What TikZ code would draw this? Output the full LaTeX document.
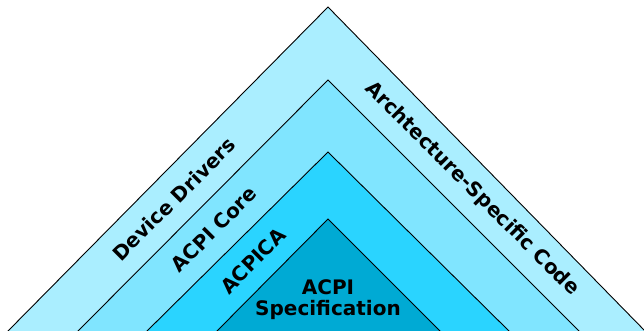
\documentclass[tikz,border=0pt]{standalone}
\usepackage{fontspec}
\setmainfont{DejaVu Sans}
\definecolor{layerA}{HTML}{AAEEFF}
\definecolor{layerB}{HTML}{80E5FF}
\definecolor{layerC}{HTML}{2AD4FF}
\definecolor{layerD}{HTML}{00AAD4}
\begin{document}
\begin{tikzpicture}[x=1pt,y=-1pt,
  layer/.style={draw=black,line width=0.9pt,line join=miter},
  lbl/.style={font=\fontsize{20}{21}\selectfont\bfseries,inner sep=0pt,text=black}]
\useasboundingbox (0,0) rectangle (644,330);
\begin{scope}
\clip (0,0) rectangle (644,330);
% nested layers, outermost first
\filldraw[layer,fill=layerA] (7,332) -- (328,7) -- (646,332);
\filldraw[layer,fill=layerB] (77,332) -- (328,80) -- (580,332);
\filldraw[layer,fill=layerC] (146,332) -- (328,152) -- (510,332);
\filldraw[layer,fill=layerD] (216,332) -- (328,219) -- (441,332);
\end{scope}
% labels
\node[lbl,rotate=45] (drv) at (174,199) {Device Drivers};
\node[lbl,rotate=45] (core) at (214,229) {ACPI Core};
\node[lbl,rotate=45] (acpica) at (253,261) {ACPICA};
\node[lbl,rotate=-45] (arch) at (472,189) {Archtecture-Specific Code};
\node[lbl,align=center] (spec) at (328,300) {ACPI\\Specification};
\end{tikzpicture}
\end{document}
